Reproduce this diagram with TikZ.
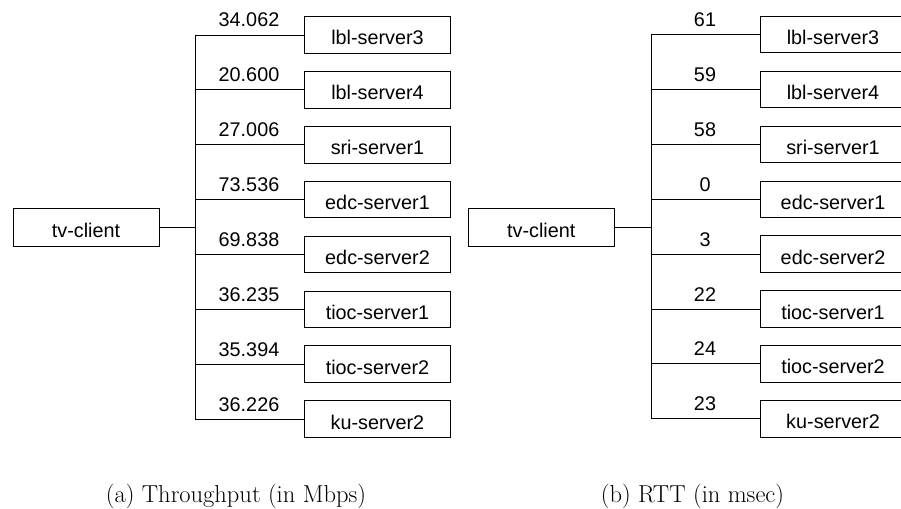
\documentclass[tikz,border=0pt]{standalone}
\usepackage{fontspec}
\newfontfamily\labelfont{Liberation Sans}
\begin{document}
\begin{tikzpicture}[x=1pt,y=-1pt,
  host/.style={draw, line width=0.9pt, minimum width=146pt, minimum height=36.5pt,
    inner sep=0pt, text height=20pt, text depth=0pt,
    font=\labelfont\fontsize{19.8}{24}\selectfont},
  client/.style={host, minimum height=38pt},
  link/.style={line width=0.9pt},
  metric/.style={anchor=base, inner sep=0pt, font=\labelfont\fontsize{19.8}{24}\selectfont},
  caption/.style={anchor=base, inner sep=0pt, font=\fontsize{24.5}{28}\selectfont}]
\useasboundingbox (0,0) rectangle (901,508);
\clip (0,0) rectangle (901,508);

% ---- (a) throughput tree ----
\node[client] (ca) at (86,227) {tv-client};
\coordinate (ja) at (195,227);
\draw[link] (ca.east) -- (ja);
\foreach \i/\name/\val in {1/lbl-server3/34.062, 2/lbl-server4/20.600,
    3/sri-server1/27.006, 4/edc-server1/73.536, 5/edc-server2/69.838,
    6/tioc-server1/36.235, 7/tioc-server2/35.394, 8/ku-server2/36.226} {
  \pgfmathsetmacro{\yy}{35+54.857*(\i-1)}
  \node[host] (a\i) at (377.5,\yy) {\name};
  \coordinate (ta\i) at (195,\yy);
  \draw[link] (ta\i) -- (a\i.west);
  \node[metric] (va\i) at (249,\yy-8) {\val};
}
\draw[link] (ta1) -- (ta8);
\node[caption] (capa) at (236,502) {(a) Throughput (in Mbps)};

% ---- (b) RTT tree ----
\node[client] (cb) at (541.3,227.3) {tv-client};
\coordinate (jb) at (651,227.3);
\draw[link] (cb.east) -- (jb);
\foreach \i/\name/\val in {1/lbl-server3/61, 2/lbl-server4/59,
    3/sri-server1/58, 4/edc-server1/0, 5/edc-server2/3,
    6/tioc-server1/22, 7/tioc-server2/24, 8/ku-server2/23} {
  \pgfmathsetmacro{\yy}{34.5+54.9*(\i-1)}
  \node[host] (b\i) at (833,\yy) {\name};
  \coordinate (tb\i) at (651,\yy);
  \draw[link] (tb\i) -- (b\i.west);
  \node[metric] (vb\i) at (705,\yy-8) {\val};
}
\draw[link] (tb1) -- (tb8);
\node[caption] (capb) at (692.5,502) {(b) RTT (in msec)};
\end{tikzpicture}
\end{document}
